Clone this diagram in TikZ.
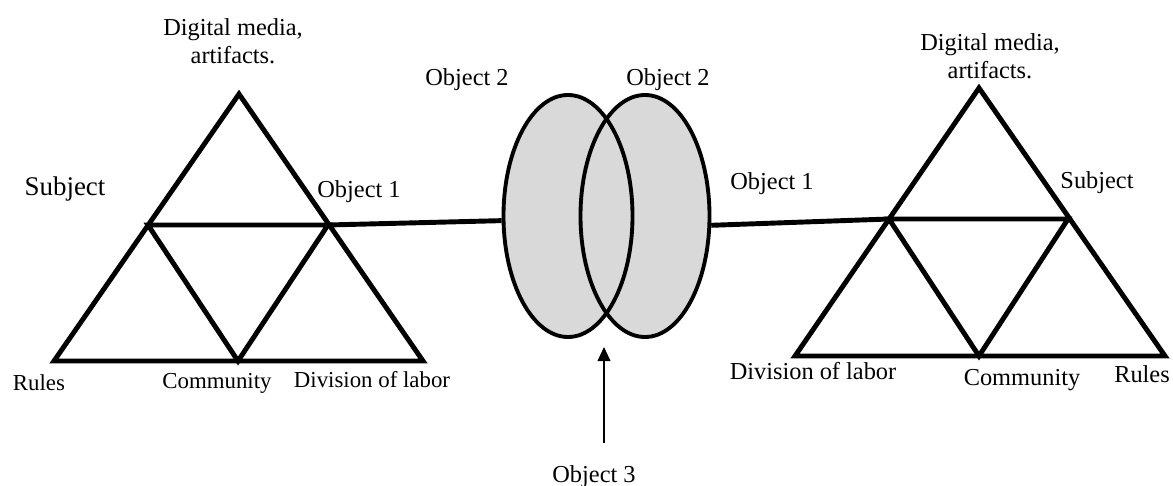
\documentclass[tikz,border=0pt]{standalone}
\usepackage{fontspec}
\setmainfont{Liberation Serif}
\usetikzlibrary{arrows.meta,shapes.geometric,backgrounds}
\definecolor{lensgray}{RGB}{217,217,217}
\tikzset{
  tri/.style ={line width=4.2pt, line join=miter},
  bar/.style ={line width=4.2pt},
  lens/.style={ellipse, draw, line width=3.3pt, minimum width=3.87cm,
               minimum height=7.26cm, inner sep=0pt},
  lbl/.style ={font=\fontsize{20.8}{23.8}\selectfont, inner sep=0pt, anchor=base},
  lbls/.style={lbl, font=\fontsize{19.5}{22}\selectfont},
  arr/.style ={-{Triangle[length=12pt,width=11pt]}, line width=1.1pt},
}
\begin{document}
\begin{tikzpicture}[x=0.03cm, y=-0.03cm]
  \useasboundingbox (0,0) rectangle (1173,486);

  % left activity system
  \coordinate (La) at (239,94);  \coordinate (Lb) at (54,361);
  \coordinate (Lc) at (423,361); \coordinate (Ls) at (148,225);
  \coordinate (Lo) at (328,225); \coordinate (Lm) at (238,361);
  \draw[tri] (La) -- (Lb) -- (Lc) -- cycle;
  \draw[tri] (Ls) -- (Lo) -- (Lm) -- cycle;

  % right activity system
  \coordinate (Ra) at (979,88);  \coordinate (Rb) at (795,356);
  \coordinate (Rc) at (1165,356);\coordinate (Rl) at (889,219);
  \coordinate (Rs) at (1068,219);\coordinate (Rm) at (979,356);
  \draw[tri] (Ra) -- (Rb) -- (Rc) -- cycle;
  \draw[tri] (Rl) -- (Rs) -- (Rm) -- cycle;

  % shared object
  \node[lens] (objA) at (568,216) {};
  \node[lens] (objB) at (645,216) {};
  \begin{scope}[on background layer]
    \fill[lensgray] (objA.center) ellipse [x radius=64.5, y radius=121];
    \fill[lensgray] (objB.center) ellipse [x radius=64.5, y radius=121];
  \end{scope}
  \draw[bar] (Lo) -- (objA.184);
  \draw[bar] (objB.-8) -- (Rl);

  \coordinate (o3foot) at (604,443);
  \coordinate (o3tip)  at (604,347);
  \draw[arr] (o3foot) -- (o3tip);

  % labels
  \node[lbl, anchor=center, align=center] (Ldig) at (233,41) {Digital media,\\artifacts.};
  \node[lbl, font=\fontsize{23}{26}\selectfont] (Lsub) at (65,196) {Subject};
  \node[lbl] (Lobj) at (359,198) {Object 1};
  \node[lbls] (Lrul) at (39,391)  {Rules};
  \node[lbls] (Lcom) at (217,388) {Community};
  \node[lbls] (Ldiv) at (372,387) {Division of labor};

  \node[lbl] (obj2a) at (467,86)  {Object 2};
  \node[lbl] (obj2b) at (668,86)  {Object 2};
  \node[lbl] (obj1m) at (772,190) {Object 1};
  \node[lbl] (obj3)  at (594,482) {Object 3};

  \node[lbl, anchor=center, align=center] (Rdig) at (990,56) {Digital media,\\artifacts.};
  \node[lbl] (Rsub) at (1097,189) {Subject};
  \node[lbl] (Rdiv) at (813,380)  {Division of labor};
  \node[lbl] (Rcom) at (1022,385) {Community};
  \node[lbl] (Rrul) at (1142,382) {Rules};
\end{tikzpicture}
\end{document}
